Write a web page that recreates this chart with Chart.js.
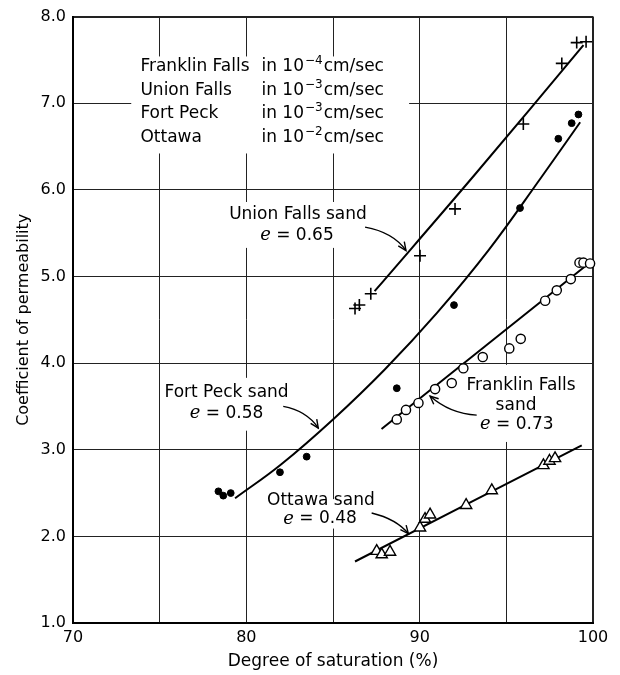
<!DOCTYPE html>
<html>
<head>
<meta charset="utf-8">
<script src="https://cdn.jsdelivr.net/npm/chart.js@4.4.0/dist/chart.umd.min.js"></script>
<style>
html,body{margin:0;padding:0;background:#fff;}
#wrap{width:620px;height:675px;}
</style>
</head>
<body>
<div id="wrap"><canvas id="c" width="620" height="675"></canvas></div>
<script>
// ---------- data ----------
const xTickValues = [70, 80, 90, 100];
const yTickValues = [1, 2, 3, 4, 5, 6, 7, 8];

// Union Falls sand (+)
const unionX = [86.27, 86.52, 87.18, 90.02, 92.04, 95.98, 98.2, 99.06, 99.6];
const unionY = [4.63, 4.67, 4.80, 5.24, 5.78, 6.76, 7.46, 7.70, 7.71];
const unionCurveX = [87.4, 93.2, 99.45];
const unionCurveY = [4.83, 6.18, 7.67];

// Fort Peck sand (filled dots)
const fortX = [78.39, 78.67, 79.1, 81.94, 83.48, 88.68, 91.98, 95.79, 98.0, 98.77, 99.16];
const fortY = [2.52, 2.47, 2.50, 2.74, 2.92, 3.71, 4.67, 5.79, 6.59, 6.77, 6.87];
const fortCurveX = [79.35, 82, 85, 88, 91, 94, 97, 99.26];
const fortCurveY = [2.44, 2.83, 3.35, 3.93, 4.58, 5.31, 6.14, 6.78];

// Franklin Falls sand (open circles)
const franklinX = [88.68, 89.21, 89.93, 90.89, 91.85, 92.52, 93.64, 95.17, 95.83, 97.24, 97.91, 98.72, 99.22, 99.45, 99.83];
const franklinY = [3.35, 3.46, 3.54, 3.70, 3.77, 3.94, 4.07, 4.17, 4.28, 4.72, 4.84, 4.97, 5.16, 5.16, 5.15];
const franklinCurveX = [87.8, 99.75];
const franklinCurveY = [3.24, 5.15];

// Ottawa sand (open triangles)
const ottawaX = [87.52, 87.81, 88.29, 90.02, 90.31, 90.6, 92.68, 94.16, 97.14, 97.49, 97.81];
const ottawaY = [1.83, 1.79, 1.82, 2.10, 2.20, 2.25, 2.36, 2.53, 2.82, 2.87, 2.90];
const ottawaCurveX = [86.27, 99.35];
const ottawaCurveY = [1.71, 3.05];

// unit legend text
const unitNames = ['Franklin Falls', 'Union Falls', 'Fort Peck', 'Ottawa'];
const unitExponents = ['\u22124', '\u22123', '\u22123', '\u22122'];

// curve labels
const labelLines = [
  ['Union Falls sand'], ['Fort Peck sand'], ['Franklin Falls', 'sand'], ['Ottawa sand']
];
const labelVoids = ['0.65', '0.58', '0.73', '0.48'];

// ---------- layout of annotations (in data units) ----------
const legendNameX = 73.89, legendInX = 80.87;
const legendRowY = [7.37, 7.10, 6.83, 6.55];
const labelPos = [
  {lines: [[82.98, 5.72]], e: [82.92, 5.47], arrow: [[86.85, 5.57], [88.48, 5.51], [89.21, 5.30]]},
  {lines: [[78.86, 3.665]], e: [78.86, 3.42], arrow: [[82.13, 3.50], [83.48, 3.45], [84.15, 3.25]]},
  {lines: [[95.85, 3.74], [95.56, 3.51]], e: [95.6, 3.29], arrow: [[93.29, 3.40], [91.75, 3.415], [90.6, 3.62]]},
  {lines: [[84.3, 2.41]], e: [84.25, 2.20], arrow: [[87.23, 2.27], [88.67, 2.20], [89.35, 2.03]]}
];
const maskBoxes = [
  [73.36, 7.54, 89.39, 6.42],
  [78.6, 5.86, 87.42, 5.33],
  [75.02, 3.83, 82.64, 3.22],
  [92.44, 3.98, 99.25, 3.09],
  [81.08, 2.43, 87.6, 2.09]
];

const SANS = '"DejaVu Sans", sans-serif';
const SERIF_IT = 'italic 18px "DejaVu Serif", "Liberation Serif", serif';
const TXT = '17px ' + SANS;

function pts(xs, ys) { return xs.map((x, i) => ({x: x, y: ys[i]})); }
function P(chart, x, y) { return [chart.scales.x.getPixelForValue(x), chart.scales.y.getPixelForValue(y)]; }

function drawArrow(ctx, s, c, t) {
  ctx.beginPath();
  ctx.moveTo(s[0], s[1]);
  ctx.quadraticCurveTo(c[0], c[1], t[0], t[1]);
  ctx.stroke();
  const ang = Math.atan2(t[1] - c[1], t[0] - c[0]);
  const L = 9, a = 0.42;
  ctx.beginPath();
  ctx.moveTo(t[0] - L * Math.cos(ang - a), t[1] - L * Math.sin(ang - a));
  ctx.lineTo(t[0], t[1]);
  ctx.lineTo(t[0] - L * Math.cos(ang + a), t[1] - L * Math.sin(ang + a));
  ctx.stroke();
}

const annotPlugin = {
  id: 'annot',
  beforeDatasetsDraw(chart) {
    const ctx = chart.ctx;
    ctx.save();
    ctx.fillStyle = '#fff';
    maskBoxes.forEach(b => {
      const p1 = P(chart, b[0], b[1]), p2 = P(chart, b[2], b[3]);
      ctx.fillRect(p1[0], p1[1], p2[0] - p1[0], p2[1] - p1[1]);
    });
    ctx.restore();
  },
  afterDatasetsDraw(chart) {
    const ctx = chart.ctx;
    ctx.save();
    ctx.fillStyle = '#000';
    ctx.strokeStyle = '#000';
    // unit legend
    ctx.textBaseline = 'alphabetic';
    ctx.textAlign = 'left';
    unitNames.forEach((name, i) => {
      const yb = P(chart, 0, legendRowY[i])[1];
      const xn = P(chart, legendNameX, 0)[0];
      let xi = P(chart, legendInX, 0)[0];
      ctx.font = TXT;
      ctx.fillText(name, xn, yb);
      ctx.fillText('in 10', xi, yb);
      xi += ctx.measureText('in 10').width + 1;
      ctx.font = '12px ' + SANS;
      ctx.fillText(unitExponents[i], xi, yb - 7);
      xi += ctx.measureText(unitExponents[i]).width + 1;
      ctx.font = TXT;
      ctx.fillText('cm/sec', xi, yb);
    });
    // curve labels
    ctx.textBaseline = 'middle';
    labelPos.forEach((lp, i) => {
      ctx.font = TXT;
      ctx.textAlign = 'center';
      labelLines[i].forEach((ln, j) => {
        const p = P(chart, lp.lines[j][0], lp.lines[j][1]);
        ctx.fillText(ln, p[0], p[1]);
      });
      const pe = P(chart, lp.e[0], lp.e[1]);
      ctx.textAlign = 'left';
      ctx.font = SERIF_IT;
      const we = ctx.measureText('e').width;
      ctx.font = TXT;
      const rest = ' = ' + labelVoids[i];
      const wr = ctx.measureText(rest).width;
      let x0 = pe[0] - (we + wr) / 2;
      ctx.font = SERIF_IT;
      ctx.fillText('e', x0, pe[1]);
      ctx.font = TXT;
      ctx.fillText(rest, x0 + we, pe[1]);
      // arrow
      ctx.lineWidth = 1.4;
      const s = P(chart, lp.arrow[0][0], lp.arrow[0][1]);
      const c = P(chart, lp.arrow[1][0], lp.arrow[1][1]);
      const t = P(chart, lp.arrow[2][0], lp.arrow[2][1]);
      drawArrow(ctx, s, c, t);
    });
    ctx.restore();
  }
};

const lineDs = (xs, ys) => ({
  data: pts(xs, ys), showLine: true, pointRadius: 0, borderColor: '#000', borderWidth: 2,
  tension: 0.4, order: 2, clip: false
});

new Chart(document.getElementById('c'), {
  type: 'scatter',
  data: {
    datasets: [
      lineDs(unionCurveX, unionCurveY),
      lineDs(fortCurveX, fortCurveY),
      lineDs(franklinCurveX, franklinCurveY),
      lineDs(ottawaCurveX, ottawaCurveY),
      {label: 'Union Falls', data: pts(unionX, unionY), pointStyle: 'cross', pointRadius: 6,
       borderColor: '#000', borderWidth: 1.6, order: 1, clip: false},
      {label: 'Fort Peck', data: pts(fortX, fortY), pointStyle: 'circle', pointRadius: 3.4,
       backgroundColor: '#000', borderColor: '#000', borderWidth: 1, order: 1, clip: false},
      {label: 'Franklin Falls', data: pts(franklinX, franklinY), pointStyle: 'circle', pointRadius: 4.6,
       backgroundColor: '#fff', borderColor: '#000', borderWidth: 1.4, order: 1, clip: false},
      {label: 'Ottawa', data: pts(ottawaX, ottawaY), pointStyle: 'triangle', pointRadius: 6.5,
       backgroundColor: '#fff', borderColor: '#000', borderWidth: 1.4, order: 1, clip: false}
    ]
  },
  options: {
    responsive: false,
    animation: false,
    events: [],
    devicePixelRatio: 1,
    layout: {padding: {top: 14, right: 27, left: 0, bottom: 0}},
    plugins: {legend: {display: false}, tooltip: {enabled: false}},
    scales: {
      x: {
        type: 'linear', min: 70, max: 100,
        afterFit: s => { s.height = 52; },
        ticks: {
          stepSize: 5, padding: 5, color: '#000', maxRotation: 0,
          font: {family: SANS, size: 16},
          callback: v => (xTickValues.includes(v) ? String(v) : '')
        },
        grid: {
          color: '#222', drawTicks: false,
          lineWidth: c => (c.tick && c.tick.value === 100 ? 2 : 1)
        },
        border: {color: '#000', width: 2},
        title: {display: true, text: 'Degree of saturation (%)', color: '#000',
                font: {family: SANS, size: 17}, padding: {top: 0, bottom: 3}}
      },
      y: {
        type: 'linear', min: 1, max: 8,
        afterFit: s => { s.width = 73; },
        ticks: {
          stepSize: 1, padding: 7, color: '#000',
          font: {family: SANS, size: 16},
          callback: v => (yTickValues.includes(v) ? v.toFixed(1) : '')
        },
        grid: {
          color: '#222', drawTicks: false,
          lineWidth: c => (c.tick && c.tick.value === 8 ? 2 : 1)
        },
        border: {color: '#000', width: 2},
        title: {display: true, text: 'Coefficient of permeability', color: '#000',
                font: {family: SANS, size: 16}, padding: {top: 14, bottom: 0}}
      }
    }
  },
  plugins: [annotPlugin]
});
</script>
</body>
</html>
